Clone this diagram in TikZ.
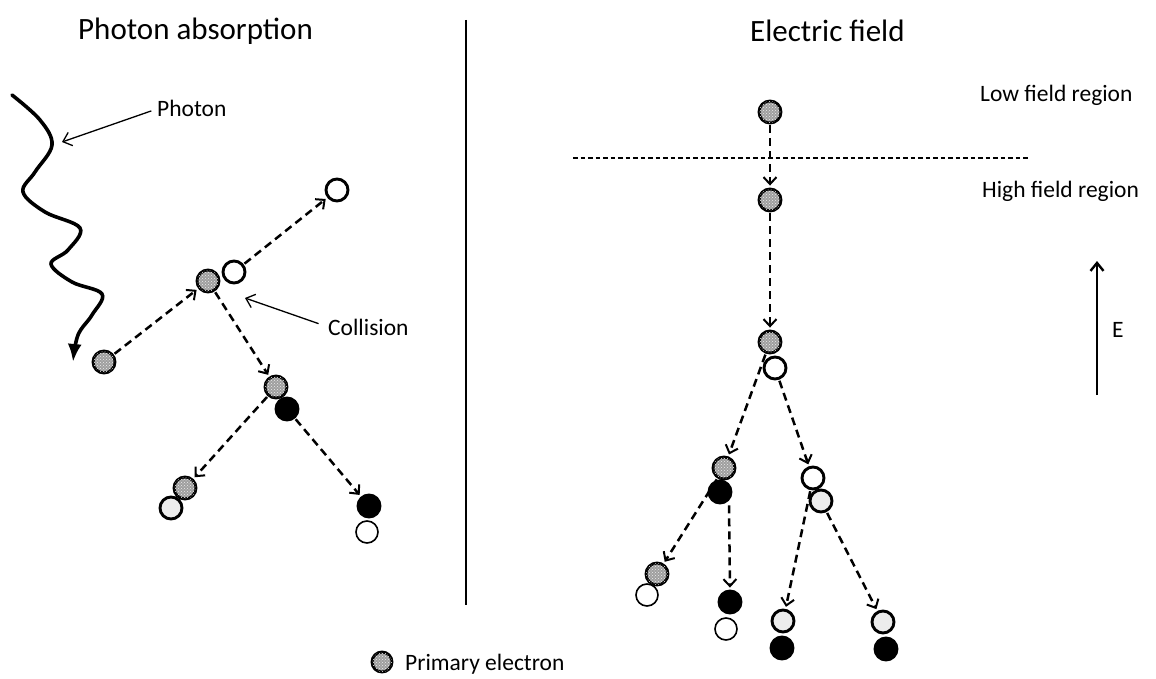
\documentclass[tikz,border=0pt]{standalone}
\usepackage{fontspec}
\setmainfont{Carlito}
\usetikzlibrary{arrows.meta,patterns}

\tikzset{
  el/.style={circle, draw, line width=2.9pt, minimum size=22pt, inner sep=0pt},
  prim/.style={el, fill=gray!75,
    postaction={pattern=crosshatch dots, pattern color=white!85!gray}},
  pale/.style={el, fill=gray!15},
  hollow/.style={el, fill=white},
  filled/.style={el, fill=black},
  thinhollow/.style={el, fill=white, line width=1.6pt},
  flow/.style={line width=2.5pt, dash pattern=on 8pt off 5pt,
    -{Straight Barb[length=7pt,width=13pt,line width=2pt]}, shorten >=2pt, shorten <=1pt},
  pointer/.style={line width=1.3pt, -{Straight Barb[length=8pt,width=14pt]}},
  title/.style={font=\fontsize{31}{36}\selectfont, anchor=base west, inner sep=0pt},
  label/.style={font=\fontsize{23.5}{28}\selectfont, anchor=base west, inner sep=0pt},
}

\begin{document}
\begin{tikzpicture}[x=1pt, y=-1pt]
\useasboundingbox (0,0) rectangle (1156,679);

% headings and divider
\node[title] (t1) at (78,40) {Photon absorption};
\node[title] (t2) at (750,42) {Electric field};
\coordinate (divtop) at (466,20);
\coordinate (divbot) at (466,605);
\draw[line width=2.2pt] (divtop) -- (divbot);

% ---- left: photon absorption ----
\draw[line width=3.6pt, line cap=round, -{Latex[length=18pt,width=14pt]}]
  plot[smooth, tension=0.6] coordinates {
    (12,95) (40,120) (52,145) (35,172) (23,192) (45,212) (80,228)
    (68,250) (51,264) (72,282) (102,294) (92,315) (78,335) (73,362)};

\node[label] (phl) at (157,117) {Photon};
\coordinate (phtip) at (62,142);
\draw[pointer, shorten <=6pt] (phl.west) -- (phtip);

\node[prim] (A) at (104,362) {};
\node[prim] (B) at (208,281) {};
\node[hollow] (C) at (234,272) {};
\node[hollow] (D) at (337,190) {};
\node[prim] (E) at (276,387) {};
\node[filled] (F) at (287,409) {};
\node[pale] (H) at (171,508) {};
\node[prim] (G) at (185,488) {};
\node[thinhollow] (J) at (367,532) {};
\node[filled] (I) at (369,506) {};

\node[label] (col) at (328,335) {Collision};
\coordinate (coltip) at (245,298);
\draw[pointer, shorten <=10pt] (col.west) -- (coltip);

\draw[flow] (A) -- (B);
\draw[flow] (C) -- (D);
\draw[flow] (B) -- (E);
\draw[flow] (E) -- (G);
\draw[flow] (F) -- (I);

% ---- right: electric field ----
\node[label] (low) at (980,102) {Low field region};
\node[label] (high) at (982,198) {High field region};
\coordinate (bl) at (573,158);
\coordinate (br) at (1028,158);
\draw[line width=1.4pt, dash pattern=on 4.5pt off 3pt] (bl) -- (br);

\coordinate (ebot) at (1097,395);
\coordinate (etop) at (1097,261);
\draw[line width=2.4pt, -{Straight Barb[length=8pt,width=13pt]}] (ebot) -- (etop);
\node[label] (elab) at (1112,337) {E};

\node[prim] (R1) at (770,112) {};
\node[prim] (R2) at (770,200) {};
\node[prim] (R3) at (770,342) {};
\node[hollow] (R4) at (775,368) {};
\node[prim] (R5) at (724,468) {};
\node[filled] (R6) at (720,492) {};
\node[hollow] (R7) at (813,478) {};
\node[pale] (R8) at (821,501) {};
\node[thinhollow] (R10) at (647,595) {};
\node[prim] (R9) at (657,574) {};
\node[filled] (R11) at (730,602) {};
\node[thinhollow] (R12) at (726,629) {};
\node[pale] (R13) at (783,621) {};
\node[filled] (R14) at (782,648) {};
\node[pale] (R15) at (883,622) {};
\node[filled] (R16) at (886,649) {};

\draw[flow] (R1) -- (R2);
\draw[flow] (R2) -- (R3);
\draw[flow] (R3) -- (R5);
\draw[flow] (R4) -- (R7);
\draw[flow] (R5) -- (R9);
\draw[flow] ([xshift=9pt]R6.south) -- (R11.north);
\draw[flow] (R7) -- (R13);
\draw[flow] (R8) -- (R15);

% legend
\node[prim, minimum size=20pt] (key) at (382,662) {};
\node[label] (keytext) at (405,670) {Primary electron};
\end{tikzpicture}
\end{document}
